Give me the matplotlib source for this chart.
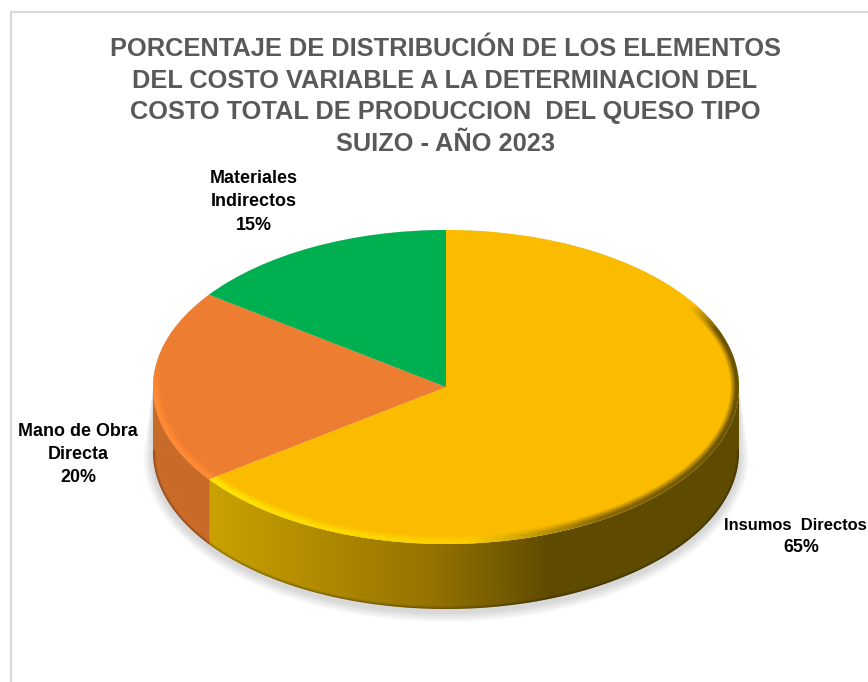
import numpy as np
import matplotlib
matplotlib.use("Agg")
import matplotlib.pyplot as plt
from matplotlib.patches import Polygon, Rectangle

plt.rcParams["font.family"] = ["Liberation Sans", "DejaVu Sans"]

title = (
    "PORCENTAJE DE DISTRIBUCIÓN DE LOS ELEMENTOS\n"
    "DEL COSTO VARIABLE A LA DETERMINACION DEL\n"
    "COSTO TOTAL DE PRODUCCION  DEL QUESO TIPO\n"
    "SUIZO - AÑO 2023"
)
labels = ["Insumos  Directos", "Mano de Obra\nDirecta", "Materiales\nIndirectos"]
values = [65, 20, 15]
colors = ["#FBBC00", "#ED7D31", "#00B050"]
name_pos = [(795, 525), (78, 443), (254, 190)]
value_pos = [(801, 548), (78, 478), (254, 226)]
label_sizes = [11.9, 12.9, 12.9]

W, H = 868, 682
cx, cy, rx, ry = 446, 387, 293, 157
depth = 65 / ry


def ux(px):
    return (px - cx) / rx


def uy(py):
    return (cy - py) / ry


fig = plt.figure(figsize=(W / 100, H / 100), dpi=100)
ax = fig.add_axes([0, 0, 1, 1])

ax.pie(values, colors=colors, startangle=90, counterclock=False, radius=1, center=(0, 0))

extent = (ux(0), ux(W), uy(H), uy(0))
px, py = np.meshgrid(np.arange(W) + 0.5, np.arange(H) + 0.5)
u, v = ux(px), uy(py)

# soft shadow under the disc, stacked hulls
for k in range(10):
    e = 10 - k
    t = np.radians(np.linspace(0, -180, 120))
    low = np.c_[(1 + e / rx) * np.cos(t), (1 + e / ry) * np.sin(t) - (66 + 2) / ry]
    t2 = np.radians(np.linspace(180, 0, 120))
    up = np.c_[np.cos(t2), np.sin(t2)]
    ax.add_patch(Polygon(np.r_[low, up], closed=True, color="#7F7F7F", alpha=0.03, lw=0, zorder=0.5))

# side wall, coloured by horizontal position and cut along the slice borders
split = np.radians(90 - values[0] * 3.6)
split_x = np.cos(split)
xs = np.linspace(-1, 1, 800)
wall_r = np.interp(cx + xs * rx, [209, 430, 550], [202, 150, 95])
wall_g = np.interp(cx + xs * rx, [209, 430, 550], [162, 115, 75])
wall_b = np.zeros_like(xs)
left = xs < split_x
wall_r[left], wall_g[left], wall_b[left] = 201, 107, 41
wall_img = np.dstack([wall_r, wall_g, wall_b]) / 255

t = np.radians(np.linspace(0, -180, 240))
outline = np.r_[np.c_[np.cos(t), np.sin(t)], np.c_[np.cos(t[::-1]), np.sin(t[::-1]) - depth]]
wall_shape = Polygon(outline, closed=True, transform=ax.transData, fc="none", ec="none")
ax.add_patch(wall_shape)
im = ax.imshow(wall_img, extent=(-1, 1, -2, 1), aspect="auto", zorder=0.9, interpolation="bilinear")
im.set_clip_path(wall_shape)

# dark soft lower edge of the wall
for lw, a in [(4, 0.08), (2.5, 0.1), (1.2, 0.12)]:
    line, = ax.plot(np.cos(t), np.sin(t) - depth, color="black", lw=lw, alpha=a, zorder=1.0)
    line.set_clip_path(wall_shape)

# bevel on the disc edge, from a distance-to-edge field
rho = np.sqrt(u**2 + v**2)
grad = np.sqrt((u / rx) ** 2 + (v / ry) ** 2) / np.maximum(rho, 1e-6)
dist = (1 - rho) / np.maximum(grad, 1e-9)
band = np.clip((9 - dist) / 6, 0, 1) * np.clip(dist + 0.5, 0, 1)
band *= np.clip((0.15 + 0.45 * np.clip(u, 0, 1) - v) / 0.2, 0, 1)
frac = (np.degrees(np.arctan2(u, v)) % 360) / 360
rim_r = np.interp(px, [209, 470, 600, 739], [255, 252, 140, 105])
rim_g = np.interp(px, [209, 470, 600, 739], [228, 205, 105, 82])
rim_b = np.zeros_like(px)
orange = (frac >= values[0] / 100) & (frac < (values[0] + values[1]) / 100)
rim_r[orange], rim_g[orange], rim_b[orange] = 255, 138, 51
band[frac >= (values[0] + values[1]) / 100] = 0
rim_img = np.dstack([rim_r / 255, rim_g / 255, rim_b / 255, band])
ax.imshow(rim_img, extent=extent, aspect="auto", zorder=2, interpolation="bilinear")

ax.set_aspect("auto")
ax.set_xlim(ux(0), ux(W))
ax.set_ylim(uy(H), uy(0))
ax.axis("off")

# figure frame, running off the right and bottom edges
fig.add_artist(Rectangle((10.5 / W, -0.05), 1.1, 1.05 - 11.5 / H, transform=fig.transFigure,
                         fill=False, edgecolor="#D9D9D9", linewidth=1.5))

fig.text(445 / W, 1 - 96.5 / H, title, ha="center", va="center", fontsize=18.3, fontweight="bold",
         color="#595959", linespacing=1.4)

for name, val, np_, vp, size in zip(labels, values, name_pos, value_pos, label_sizes):
    fig.text(np_[0] / W, 1 - np_[1] / H, name, ha="center", va="center", fontsize=size,
             fontweight="bold", color="black", linespacing=1.5)
    fig.text(vp[0] / W, 1 - vp[1] / H, f"{val}%", ha="center", va="center", fontsize=12.9,
             fontweight="bold", color="black")

fig.savefig("out.png", dpi=100)
